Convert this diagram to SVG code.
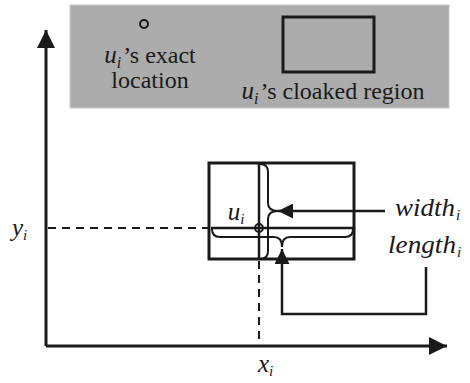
<svg xmlns="http://www.w3.org/2000/svg" width="470" height="383" viewBox="0 0 470 383">
  <style>
    .serif { font-family: 'Liberation Serif', serif; fill: #1a1a1a; }
    .it { font-style: italic; }
    .thick { fill: none; stroke: #1a1a1a; stroke-width: 3; }
    .line { fill: none; stroke: #1a1a1a; stroke-width: 2.5; }
    .brace { fill: none; stroke: #1a1a1a; stroke-width: 2; }
    .dash { fill: none; stroke: #1a1a1a; stroke-width: 2; stroke-dasharray: 8 6; }
  </style>
  <defs>
    <marker id="arrow" viewBox="0 0 10 10" refX="10" refY="5" markerWidth="6" markerHeight="6" markerUnits="strokeWidth" orient="auto">
      <path d="M0,0 L10,5 L0,10 Z" fill="#1a1a1a"/>
    </marker>
  </defs>

  <rect width="470" height="383" fill="#ffffff"/>

  <!-- legend panel -->
  <g id="legend">
    <rect x="70" y="5" width="379" height="103" fill="#acacac" stroke="#c8c8c8" stroke-width="1"/>
    <circle cx="144" cy="24" r="4" fill="none" stroke="#1a1a1a" stroke-width="2"/>
    <text class="serif" x="150" y="63" font-size="24" text-anchor="middle"><tspan class="it" font-size="25">u</tspan><tspan class="it" font-size="16" dy="5">i</tspan><tspan dx="2" dy="-5">&#8217;s exact</tspan></text>
    <text class="serif" x="150" y="88" font-size="24" text-anchor="middle">location</text>
    <rect x="283" y="17" width="91" height="55" fill="none" stroke="#1a1a1a" stroke-width="3"/>
    <text class="serif" x="333" y="99" font-size="24" text-anchor="middle"><tspan class="it" font-size="25">u</tspan><tspan class="it" font-size="16" dy="5">i</tspan><tspan dx="2" dy="-5">&#8217;s cloaked region</tspan></text>
  </g>

  <!-- axes, guides and pointer lines -->
  <g id="connectors">
    <path class="thick" d="M46,346 L46,30" marker-end="url(#arrow)"/>
    <path class="thick" d="M46,346 L447,346" marker-end="url(#arrow)"/>
    <path class="dash" d="M48,228 L210,228"/>
    <path class="dash" d="M259,261 L259,344"/>
    <path class="line" d="M385,211 L278,211" marker-end="url(#arrow)"/>
    <path class="line" d="M426,267 L426,314 L282,314 L282,249" marker-end="url(#arrow)"/>
  </g>

  <!-- cloaked region with exact location -->
  <g id="region">
    <rect class="thick" x="209" y="163" width="145" height="96"/>
    <line class="line" x1="259" y1="163" x2="259" y2="260"/>
    <line class="line" x1="211" y1="228" x2="353" y2="228"/>
    <circle cx="259" cy="228" r="4" fill="none" stroke="#1a1a1a" stroke-width="2"/>
    <!-- width brace -->
    <path class="brace" d="M260,164 Q268,164 268,172 L268,203 Q268,211 278,211 Q268,211 268,219 L268,251 Q268,259 260,259"/>
    <!-- length brace -->
    <path class="brace" d="M212,229 Q212,237 220,237 L274,237 Q282,237 282,247 Q282,237 290,237 L345,237 Q353,237 353,229"/>
    <text class="serif it" x="236" y="220" font-size="25" text-anchor="middle">u<tspan font-size="15" dy="4">i</tspan></text>
  </g>

  <!-- labels -->
  <g id="labels">
    <text class="serif it" x="395" y="216" font-size="25" textLength="60" lengthAdjust="spacingAndGlyphs">width</text>
    <text class="serif it" x="456" y="220" font-size="15">i</text>
    <text class="serif it" x="388" y="253" font-size="25" textLength="68" lengthAdjust="spacingAndGlyphs">length</text>
    <text class="serif it" x="457" y="257" font-size="15">i</text>
    <text class="serif it" x="12" y="236" font-size="25">y<tspan font-size="15" dy="4">i</tspan></text>
    <text class="serif it" x="258" y="372" font-size="25">x<tspan font-size="15" dy="4">i</tspan></text>
  </g>
</svg>
